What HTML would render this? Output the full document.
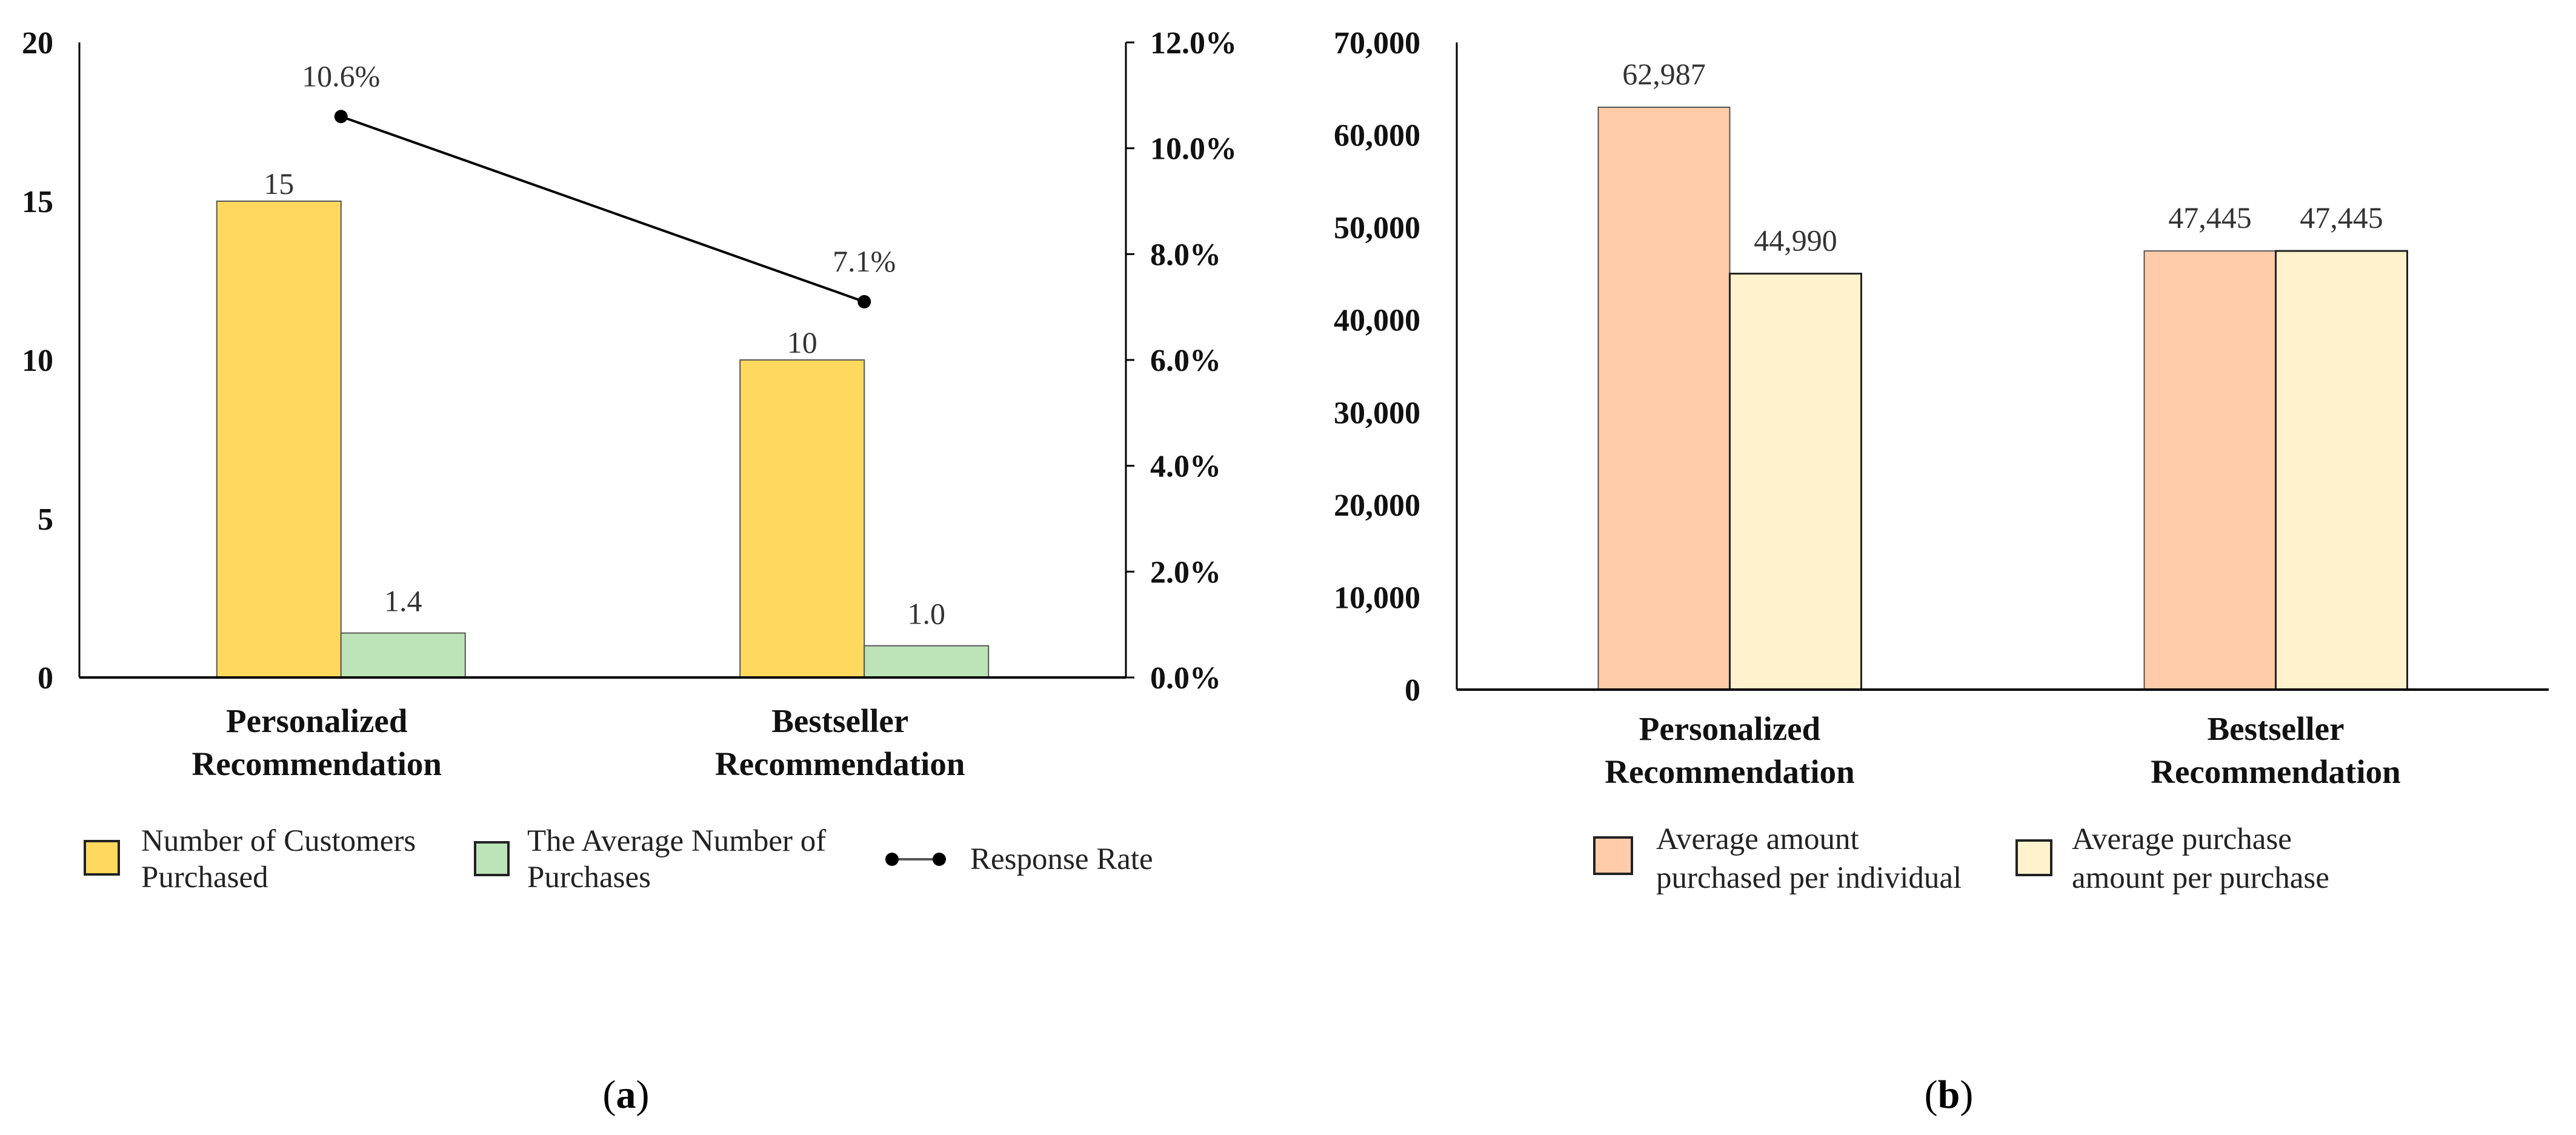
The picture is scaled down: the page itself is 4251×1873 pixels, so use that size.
<!DOCTYPE html>
<html><head><meta charset="utf-8"><style>
html,body{margin:0;padding:0;background:#fff}
svg{display:block;font-family:"Liberation Serif",serif}
</style></head><body>
<svg id="chart" width="4251" height="1873" viewBox="0 0 4251 1873" xmlns="http://www.w3.org/2000/svg">
<g id="a"></g>
<g id="b"></g>
<g>
  <rect x="140" y="1388" width="56" height="55" fill="#FFD95E" stroke="#222" stroke-width="4"/>
  <text x="233" y="1404" font-size="51" fill="#222"><tspan x="233">Number of Customers</tspan><tspan x="233" y="1464">Purchased</tspan></text>
  <rect x="784" y="1390" width="55" height="54" fill="#BDE3B8" stroke="#222" stroke-width="4"/>
  <text x="870" y="1404" font-size="51" fill="#222"><tspan x="870">The Average Number of</tspan><tspan x="870" y="1464">Purchases</tspan></text>
  <line x1="1470" y1="1418" x2="1550" y2="1418" stroke="#555" stroke-width="4"/>
  <circle cx="1472" cy="1418" r="11" fill="#000"/>
  <circle cx="1550" cy="1418" r="11" fill="#000"/>
  <text x="1601" y="1434" font-size="51" fill="#222">Response Rate</text>
</g>
<g>
  <rect x="2631" y="1382" width="62" height="60" fill="#FFCBA8" stroke="#222" stroke-width="4"/>
  <text x="2733" y="1401" font-size="51" fill="#222"><tspan x="2733">Average amount</tspan><tspan x="2733" y="1465">purchased per individual</tspan></text>
  <rect x="3328" y="1387" width="57" height="57" fill="#FFF2CC" stroke="#222" stroke-width="4"/>
  <text x="3419" y="1401" font-size="51" fill="#222"><tspan x="3419">Average purchase</tspan><tspan x="3419" y="1465">amount per purchase</tspan></text>
</g>
<text x="1033" y="1828" font-size="66" text-anchor="middle" fill="#000">(<tspan font-weight="bold">a</tspan>)</text>
<text x="3216" y="1828" font-size="66" text-anchor="middle" fill="#000">(<tspan font-weight="bold">b</tspan>)</text>
</svg>
<script>
const categories = ["Personalized|Recommendation", "Bestseller|Recommendation"];
const customers = [15, 10];
const avgPurchases = [1.4, 1.0];
const responseRate = [10.6, 7.1];
const leftTicks = [0, 5, 10, 15, 20];
const rightTicks = [0, 2, 4, 6, 8, 10, 12];
const perIndividual = [62987, 47445];
const perPurchase = [44990, 47445];
const bTicks = [0, 10000, 20000, 30000, 40000, 50000, 60000, 70000];

const NS = "http://www.w3.org/2000/svg";
function mk(parent, tag, attrs, txt) {
  const e = document.createElementNS(NS, tag);
  for (const k in attrs) e.setAttribute(k, attrs[k]);
  if (txt !== undefined) e.textContent = txt;
  parent.appendChild(e);
  return e;
}
const fmt = v => v.toLocaleString("en-US");

// Chart A
const A = document.getElementById("a");
const aX0 = 131, aX1 = 1858, aY0 = 1118, aTop = 70;
const yA = v => aY0 - v / 20 * (aY0 - aTop);
const yP = p => aY0 - p / 12 * (aY0 - aTop);
const aBand = (aX1 - aX0) / categories.length;
const barW = 205;
leftTicks.forEach(t => {
  const el = mk(A, "text", {x: 88, y: yA(t) + 18, "font-size": 52, "font-weight": "bold", "text-anchor": "end", fill: "#111"}, String(t));
  
  
});
rightTicks.forEach(t => {
  const tk = mk(A, "line", {x1: aX1, x2: aX1 + 14, y1: yP(t), y2: yP(t), stroke: "#000", "stroke-width": 3});
  
  
  const el = mk(A, "text", {x: 1898, y: yP(t) + 18, "font-size": 52, "font-weight": "bold", fill: "#111"}, t.toFixed(1) + "%");
  
  
});
const linePts = [];
categories.forEach((c, i) => {
  const cx = aX0 + aBand * (i + 0.5);
  const b1 = mk(A, "rect", {x: cx - barW, y: yA(customers[i]), width: barW, height: aY0 - yA(customers[i]), fill: "#FFD95E", stroke: "#555", "stroke-width": 2});
  
  
  const b2 = mk(A, "rect", {x: cx, y: yA(avgPurchases[i]), width: barW, height: aY0 - yA(avgPurchases[i]), fill: "#BDE3B8", stroke: "#555", "stroke-width": 2});
  
  
  const l1 = mk(A, "text", {x: cx - barW / 2, y: yA(customers[i]) - 12, "font-size": 50, "text-anchor": "middle", fill: "#333"}, String(customers[i]));
  
  
  const l2 = mk(A, "text", {x: cx + barW / 2, y: yA(avgPurchases[i]) - 36, "font-size": 50, "text-anchor": "middle", fill: "#333"}, avgPurchases[i].toFixed(1));
  
  
  linePts.push([cx, yP(responseRate[i])]);
  const parts = c.split("|");
  const cl = mk(A, "text", {x: cx - 40, y: 1208, "font-size": 55, "font-weight": "bold", "text-anchor": "middle", fill: "#111"});
  
  
  mk(cl, "tspan", {x: cx - 40}, parts[0]);
  mk(cl, "tspan", {x: cx - 40, y: 1279}, parts[1]);
});
const ax1 = mk(A, "line", {x1: aX0, x2: aX0, y1: aTop, y2: aY0, stroke: "#000", "stroke-width": 3});


const ax2 = mk(A, "line", {x1: aX1, x2: aX1, y1: aTop, y2: aY0, stroke: "#000", "stroke-width": 3});


const ax3 = mk(A, "line", {x1: aX0, x2: aX1, y1: aY0, y2: aY0, stroke: "#000", "stroke-width": 4});


const pl = mk(A, "polyline", {points: linePts.map(p => p.join(",")).join(" "), fill: "none", stroke: "#000", "stroke-width": 4});


linePts.forEach((p, i) => {
  const c = mk(A, "circle", {cx: p[0], cy: p[1], r: 11, fill: "#000"});
  
  
  const t = mk(A, "text", {x: p[0], y: p[1] - 50, "font-size": 50, "text-anchor": "middle", fill: "#333"}, responseRate[i].toFixed(1) + "%");
  
  
});

// Chart B
const B = document.getElementById("b");
const bX0 = 2404, bX1 = 4206, bY0 = 1138, bTop = 70;
const yB = v => bY0 - v / 70000 * (bY0 - bTop);
const bBand = (bX1 - bX0) / categories.length;
const bW = 217;
bTicks.forEach(t => {
  const el = mk(B, "text", {x: 2344, y: yB(t) + 18, "font-size": 52, "font-weight": "bold", "text-anchor": "end", fill: "#111"}, fmt(t));
  
  
});
categories.forEach((c, i) => {
  const cx = bX0 + bBand * (i + 0.5);
  const b1 = mk(B, "rect", {x: cx - bW, y: yB(perIndividual[i]), width: bW, height: bY0 - yB(perIndividual[i]), fill: "#FFCBA8", stroke: "#555", "stroke-width": 2});
  
  
  const b2 = mk(B, "rect", {x: cx, y: yB(perPurchase[i]), width: bW, height: bY0 - yB(perPurchase[i]), fill: "#FFF2CC", stroke: "#222", "stroke-width": 3});
  
  
  const l1 = mk(B, "text", {x: cx - bW / 2, y: yB(perIndividual[i]) - 38, "font-size": 50, "text-anchor": "middle", fill: "#333"}, fmt(perIndividual[i]));
  
  
  const l2 = mk(B, "text", {x: cx + bW / 2, y: yB(perPurchase[i]) - 38, "font-size": 50, "text-anchor": "middle", fill: "#333"}, fmt(perPurchase[i]));
  
  
  const parts = c.split("|");
  const cl = mk(B, "text", {x: cx, y: 1221, "font-size": 55, "font-weight": "bold", "text-anchor": "middle", fill: "#111"});
  
  
  mk(cl, "tspan", {x: cx}, parts[0]);
  mk(cl, "tspan", {x: cx, y: 1292}, parts[1]);
});
const bx1 = mk(B, "line", {x1: bX0, x2: bX0, y1: bTop, y2: bY0, stroke: "#000", "stroke-width": 3});


const bx2 = mk(B, "line", {x1: bX0, x2: bX1, y1: bY0, y2: bY0, stroke: "#000", "stroke-width": 4});


</script>
</body></html>
